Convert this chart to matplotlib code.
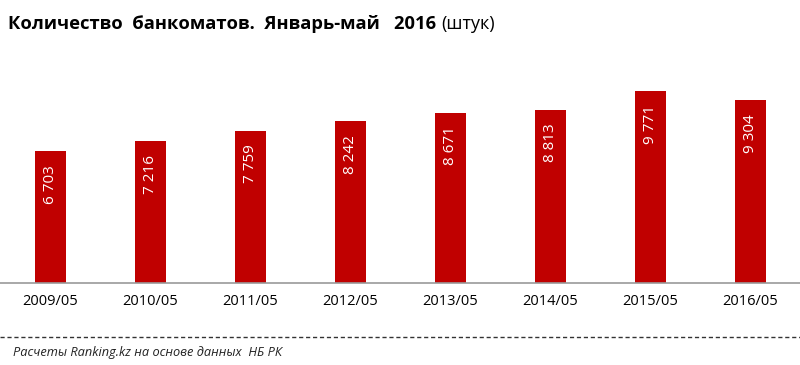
import matplotlib
matplotlib.use("Agg")
from matplotlib import pyplot as plt
from matplotlib.lines import Line2D

periods = ['2009/05', '2010/05', '2011/05', '2012/05', '2013/05', '2014/05', '2015/05', '2016/05']
atms = [6703, 7216, 7759, 8242, 8671, 8813, 9771, 9304]

plt.rcParams['font.family'] = ['Open Sans', 'DejaVu Sans']

fig = plt.figure(figsize=(8, 3.65), dpi=100)
ax = fig.add_axes([0.0, 0.225, 1.0, 0.645])

x = range(len(periods))
ax.bar(x, atms, width=0.31, color='#C00000')
for i, v in zip(x, atms):
    s = '{:,}'.format(v).replace(',', ' ')
    ax.text(i, v - 700, s, rotation=90, ha='center', va='top', color='white', fontsize=11)

ax.set_xlim(-0.5, 7.5)
ax.set_ylim(0, 12000)
ax.set_xticks(list(x))
ax.set_xticklabels(periods, fontsize=10.5)
ax.tick_params(axis='x', length=0, pad=8)
ax.set_yticks([])
for sp in ['top', 'left', 'right']:
    ax.spines[sp].set_visible(False)
ax.spines['bottom'].set_color('#999999')
ax.spines['bottom'].set_linewidth(1.2)

title = fig.text(0.01, 0.935, 'Количество  банкоматов.  Январь-май   2016', fontsize=13.2,
                 fontweight='bold', va='center')
fig.canvas.draw()
ax.annotate('(штук)', xy=(1, 0.5), xycoords=title, xytext=(4, 0),
            textcoords='offset points', fontsize=13, va='center', ha='left',
            annotation_clip=False)

# dashed separator above the source note
fig.add_artist(Line2D([0.0, 1.0], [0.077, 0.077], transform=fig.transFigure,
                      color='#333333', linestyle=(0, (3, 2)), linewidth=1))
fig.text(0.016, 0.033, 'Расчеты Ranking.kz на основе данных  НБ РК', fontsize=9.2,
         style='italic', va='center', color='#222222')

fig.savefig('out.png')
